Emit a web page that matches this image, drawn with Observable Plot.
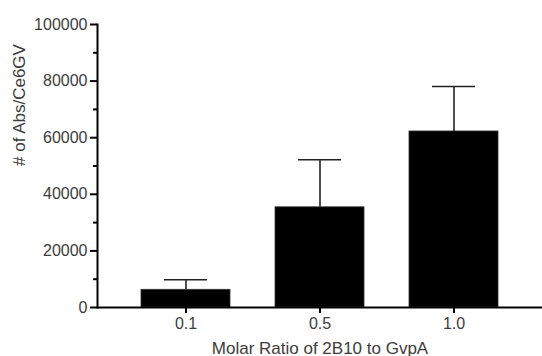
<!DOCTYPE html>
<html>
<head>
<meta charset="utf-8">
<script src="https://cdn.jsdelivr.net/npm/d3@7"></script>
<script src="https://cdn.jsdelivr.net/npm/@observablehq/plot@0.6"></script>
<style>
  html, body { margin: 0; padding: 0; background: #fff; }
  svg { display: block; }
</style>
</head>
<body>
<div id="chart"></div>
<script>
const categories = ["0.1", "0.5", "1.0"];
const means = [6250, 35400, 62200];
const sds = [3550, 16800, 15900];
const majorTicks = [0, 20000, 40000, 60000, 80000, 100000];
const minorTicks = [10000, 30000, 50000, 70000, 90000];
const xLabel = "Molar Ratio of 2B10 to GvpA";
const yLabel = "# of Abs/Ce6GV";

const data = categories.map((c, i) => ({cat: c, mean: means[i], sd: sds[i], top: means[i] + sds[i]}));

const textColor = "#3c3c3c";
const font = "Liberation Sans, Arial, sans-serif";

const chart = Plot.plot({
  width: 542,
  height: 356,
  marginLeft: 97,
  marginRight: 0,
  marginTop: 24,
  marginBottom: 49,
  style: {fontFamily: font, fontSize: "15px", background: "#fff"},
  x: {domain: categories, paddingInner: 0.336, paddingOuter: 0.328},
  y: {domain: [0, 100000]},
  marks: [
    Plot.barY(data, {x: "cat", y: "mean", fill: "#000", stroke: "#333", strokeWidth: 0.8}),
    Plot.ruleX(data, {x: "cat", y1: "mean", y2: "top", stroke: "#222", strokeWidth: 1.6}),
    Plot.tickY(data, {x: "cat", y: "top", stroke: "#222", strokeWidth: 1.6, insetLeft: 23, insetRight: 23}),
    Plot.axisY(majorTicks, {
      tickSize: 7, tickPadding: 3, strokeWidth: 2, stroke: "#000", color: textColor,
      fontSize: 16, tickFormat: d => String(d), label: null
    }),
    Plot.axisY(minorTicks, {tickSize: 4, strokeWidth: 2, stroke: "#000", fill: "none", label: null}),
    Plot.axisX({
      tickSize: 6, tickPadding: 4, strokeWidth: 2, stroke: "#000", color: textColor,
      fontSize: 16, label: null
    }),
    Plot.text([xLabel], {frameAnchor: "bottom", dy: 46, fontSize: 17, fill: textColor, lineAnchor: "bottom"}),
    Plot.text([yLabel], {frameAnchor: "left", dx: -78, rotate: -90, fontSize: 17, fill: textColor}),
    Plot.frame({anchor: "left", strokeWidth: 2, stroke: "#000"}),
    Plot.ruleY([0], {strokeWidth: 2, stroke: "#000"})
  ]
});
document.getElementById("chart").appendChild(chart);
</script>
</body>
</html>
